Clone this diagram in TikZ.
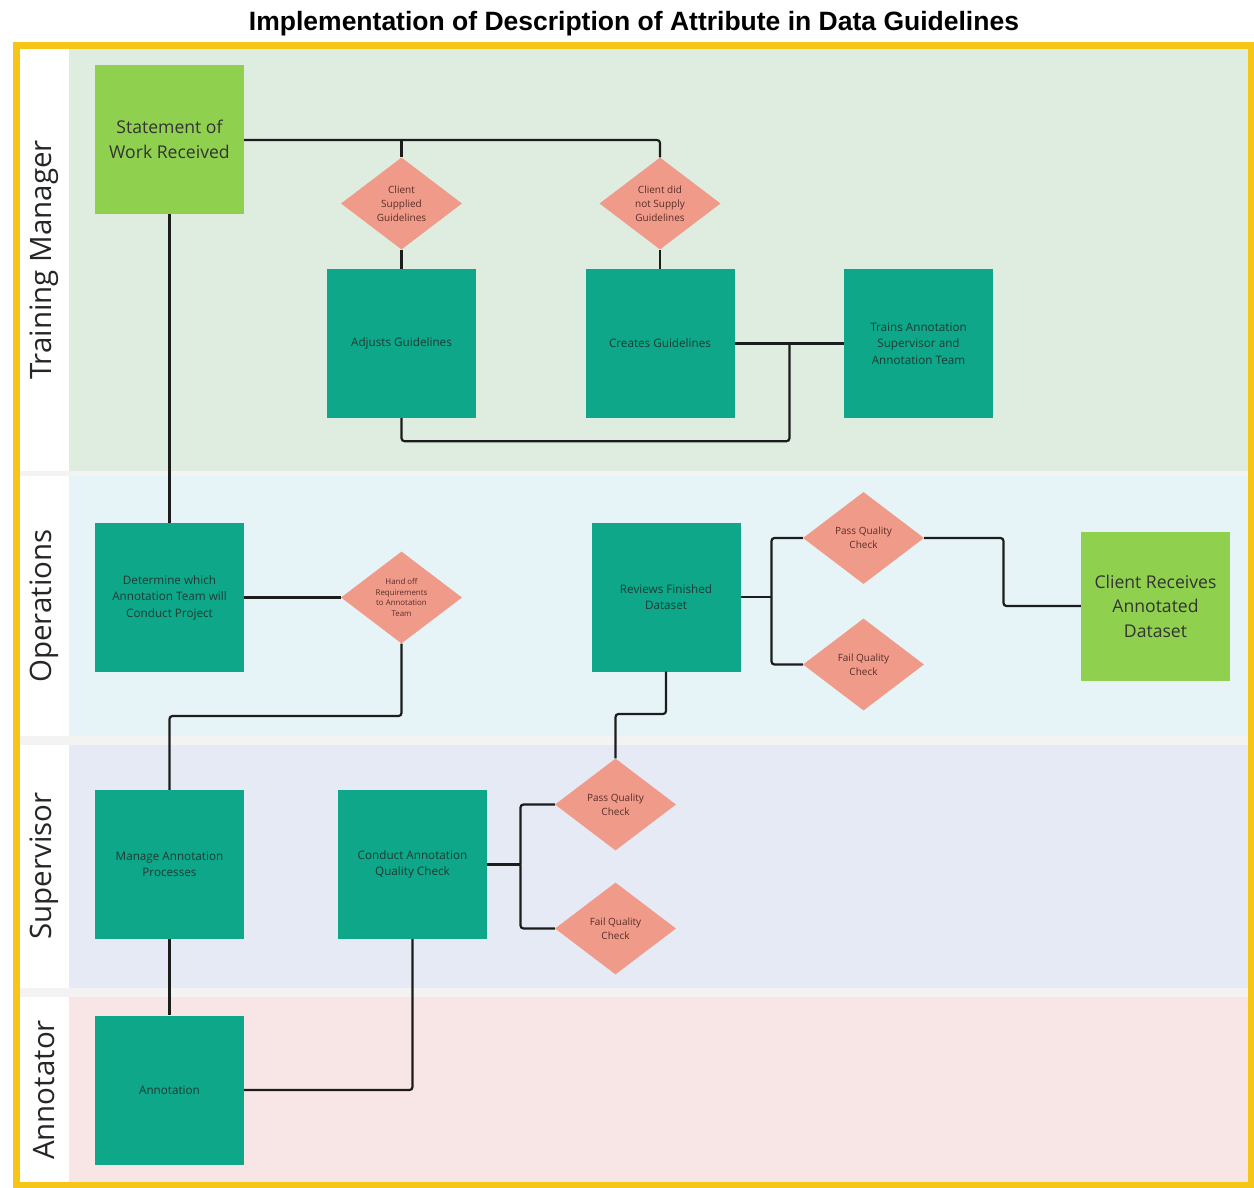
\documentclass[tikz,border=0pt]{standalone}
\usepackage{fontspec}
\setmainfont{Open Sans}
\newfontfamily\titlefont{Liberation Sans}
\usetikzlibrary{shapes.geometric}

\definecolor{frameyellow}{HTML}{F5C518}
\definecolor{lanegap}{HTML}{F3F3F3}
\definecolor{lanetm}{HTML}{DEEDE0}
\definecolor{laneops}{HTML}{E6F4F7}
\definecolor{lanesup}{HTML}{E6EAF5}
\definecolor{laneann}{HTML}{F8E6E6}
\definecolor{startgreen}{HTML}{8FD14F}
\definecolor{taskteal}{HTML}{0EA789}
\definecolor{decsalmon}{HTML}{F09A8A}
\definecolor{inktext}{HTML}{1E3A33}
\definecolor{inkdec}{HTML}{5A2E28}
\definecolor{wire}{HTML}{1C1C1C}

\tikzset{
  lanelabel/.style={rotate=90, font=\fontsize{29.5}{32}\selectfont, text=black!85},
  greenbox/.style={rectangle, fill=startgreen, minimum width=149, minimum height=149,
    inner sep=0, align=center, text=black!80, font=\fontsize{17.6}{24.5}\selectfont},
  tealbox/.style={rectangle, fill=taskteal, minimum width=149, minimum height=149,
    inner sep=0, align=center, text=inktext, font=\fontsize{11.7}{16.5}\selectfont},
  decision/.style={diamond, aspect=1.3, fill=decsalmon, minimum width=121, minimum height=92,
    inner sep=0, align=center, text=inkdec, font=\fontsize{10}{14}\selectfont},
  smalldecision/.style={decision, font=\fontsize{7.9}{10.5}\selectfont},
  link/.style={draw=wire, line width=2.2, rounded corners=3},
}

\begin{document}
\begin{tikzpicture}[x=1pt, y=-1pt]
\useasboundingbox (0,0) rectangle (1254,1188);
\fill[white] (0,0) rectangle (1254,1188);

% title
\node (title) at (634,23.5) {\titlefont\bfseries\fontsize{26.5}{30}\selectfont Implementation of Description of Attribute in Data Guidelines};

% swimlanes
\fill[lanegap] (16,46) rectangle (1251,1185);
\fill[white]   (20,49)  rectangle (69,471);
\fill[lanetm]  (69,49)  rectangle (1251,471);
\fill[white]   (20,476) rectangle (69,736);
\fill[laneops] (69,476) rectangle (1251,736);
\fill[white]   (20,745) rectangle (69,988);
\fill[lanesup] (69,745) rectangle (1251,988);
\fill[white]   (20,997) rectangle (69,1183);
\fill[laneann] (69,997) rectangle (1251,1183);

\node[lanelabel] (lbltm)  at (44,260)  {Training Manager};
\node[lanelabel] (lblops) at (44,606)  {Operations};
\node[lanelabel] (lblsup) at (44,866)  {Supervisor};
\node[lanelabel] (lblann) at (44,1090) {Annotator};

% Training Manager lane
\node[greenbox] (sow) at (169.5,139.5) {Statement of\\Work Received};
\node[decision] (supplied) at (401.5,203.5) {Client\\Supplied\\Guidelines};
\node[decision] (notsupplied) at (660,203.5) {Client did\\not Supply\\Guidelines};
\node[tealbox] (adjust) at (401.5,343.5) {Adjusts Guidelines};
\node[tealbox] (create) at (660,343.5) {Creates Guidelines};
\node[tealbox] (train) at (918.5,343.5) {Trains Annotation\\Supervisor and\\Annotation Team};

% Operations lane
\node[tealbox] (determine) at (169.5,597.5) {Determine which\\Annotation Team will\\Conduct Project};
\node[smalldecision] (handoff) at (401.5,597.5) {Hand off\\Requirements\\to Annotation\\Team};
\node[tealbox] (review) at (666,597) {Reviews Finished\\Dataset};
\node[decision] (opspass) at (863.5,538) {Pass Quality\\Check};
\node[decision] (opsfail) at (863.5,664.5) {Fail Quality\\Check};
\node[greenbox] (client) at (1155.5,606) {Client Receives\\Annotated\\Dataset};

% Supervisor lane
\node[tealbox] (manage) at (169.5,864.5) {Manage Annotation\\Processes};
\node[tealbox] (conduct) at (412.5,864.5) {Conduct Annotation\\Quality Check};
\node[decision] (suppass) at (615.5,804.5) {Pass Quality\\Check};
\node[decision] (supfail) at (615.5,928.5) {Fail Quality\\Check};

% Annotator lane
\node[tealbox] (annot) at (169.5,1090) {Annotation};

% connectors
\coordinate (sowrun) at (401.5,140);
\coordinate (trainjoin) at (789.5,343.5);
\coordinate (confork) at (520.5,864.5);
\coordinate (revfork) at (771.5,597);

\draw[link] (sow.east |- sowrun) -| (notsupplied.north);
\draw[link] (sowrun) -- (supplied.north);
\draw[link] (supplied.south) -- (adjust.north);
\draw[link] (notsupplied.south) -- (create.north);
\draw[link] (create.east) -- (train.west);
\draw[link] (adjust.south) -- ++(0,23) -| (trainjoin);
\draw[link] (sow.south) -- (determine.north);
\draw[link] (determine.east) -- (handoff.west);
\draw[link] (handoff.south) |- (169.5,716) -- (manage.north);
\draw[link] (manage.south) -- (annot.north);
\draw[link] (annot.east) -| (conduct.south);
\draw[link] (conduct.east) -- (confork);
\draw[link] (confork) |- (suppass.west);
\draw[link] (confork) |- (supfail.west);
\draw[link] (suppass.north) |- (666,714) -- (review.south);
\draw[link] (review.east) -- (revfork);
\draw[link] (revfork) |- (opspass.west);
\draw[link] (revfork) |- (opsfail.west);
\draw[link] (opspass.east) -- (1003.5,538) |- (client.west);

% outer frame
\draw[frameyellow, line width=7] (16,46) rectangle (1251,1185);
\end{tikzpicture}
\end{document}
